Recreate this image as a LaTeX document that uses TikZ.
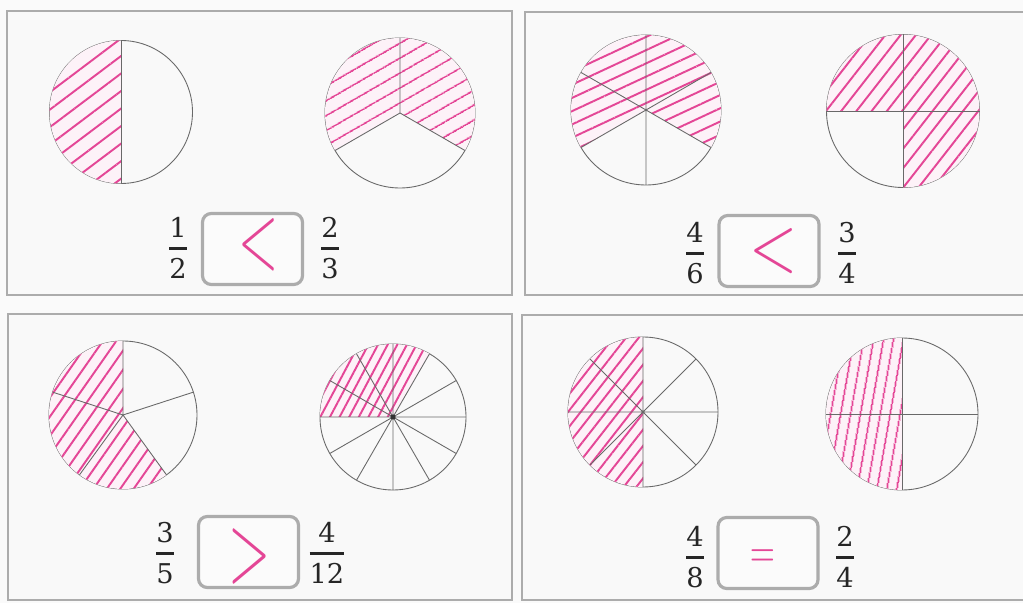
\documentclass[tikz,border=0pt]{standalone}
\definecolor{rosa}{RGB}{228,70,150}
\definecolor{marco}{RGB}{172,172,172}
\definecolor{trazo}{RGB}{105,105,105}
\usepackage{fix-cm}
\usepackage{amsmath}
\usepackage{fontspec}
\newfontfamily\cifras{DejaVu Serif}
\usepackage{tikz}
\usetikzlibrary{patterns.meta}
\newcommand{\fraccion}[2]{$\genfrac{}{}{1.6pt}{0}{\text{#1}}{\text{#2}}$}

\begin{document}
\begin{tikzpicture}[
    font=\fontsize{17}{20}\selectfont,
    panel/.style={
        draw=marco,
        line width=1.6pt,
        fill=gray!5
    },
    pie/.style={
        circle,
        draw=trazo,
        line width=0.5pt,
        inner sep=0pt,
        outer sep=0pt,
        minimum size=#1
    },
    division/.style={
        draw=trazo,
        line width=0.5pt
    },
    hatch/.style 2 args={
        preaction={fill=rosa!7},
        pattern={Lines[angle=#1,distance=#2,line width=1.1pt]},
        pattern color=rosa
    },
    answerbox/.style={
        draw=marco,
        line width=1.8pt,
        rounded corners=5pt,
        fill=gray!3,
        minimum width=2cm,
        minimum height=1.42cm
    },
    sign/.style={
        text=rosa,
        inner sep=0pt,
        font=\fontsize{30}{30}\selectfont
    },
    fraction/.style={
        text=black!85,
        inner sep=0pt,
        font=\cifras\fontsize{15.5}{20}\selectfont
    }
]

\useasboundingbox (0,0) rectangle (20.46,12.06);
\fill[gray!4] (0,0) rectangle (20.46,12.06);

% MARCOS
\draw[panel] (0.14,6.16) rectangle (10.24,11.84);
\draw[panel] (10.50,6.16) rectangle (20.60,11.82);
\draw[panel] (0.16,0.06) rectangle (10.24,5.78);
\draw[panel] (10.44,0.06) rectangle (20.60,5.76);

% PANEL SUPERIOR IZQUIERDO
\node[pie=2.86cm] (tlA) at (2.42,9.82) {};
\node[pie=3.00cm] (tlB) at (8.00,9.80) {};

\path[hatch={37}{0.28cm}] (tlA.center) -- (tlA.90)
    arc[start angle=90, end angle=270, radius=1.43cm] -- cycle;
\path[hatch={30}{0.26cm}] (tlB.center) -- (tlB.330)
    arc[start angle=-30, end angle=210, radius=1.50cm] -- cycle;

\draw[division] (tlA.90) -- (tlA.270);
\draw[division] (tlB.center) -- (tlB.90)
    (tlB.center) -- (tlB.210)
    (tlB.center) -- (tlB.330);

\node[fraction] (fTLa) at (3.56,7.10) {\fraccion{1}{2}};
\node[answerbox] (bTL) at (5.05,7.08) {};
\node[sign, yscale=1.8] (sTL) at (5.18,7.16) {$<$};
\node[fraction] (fTLb) at (6.60,7.10) {\fraccion{2}{3}};

% PANEL SUPERIOR DERECHO
\node[pie=3.00cm] (trA) at (12.92,9.86) {};
\node[pie=3.06cm] (trB) at (18.06,9.84) {};

\path[hatch={25}{0.24cm}] (trA.center) -- (trA.330)
    arc[start angle=-30, end angle=210, radius=1.50cm] -- cycle;
\path[hatch={52}{0.24cm}] (trB.center) -- (trB.270)
    arc[start angle=-90, end angle=180, radius=1.53cm] -- cycle;

\draw[division] (trA.90) -- (trA.270)
    (trA.30) -- (trA.210)
    (trA.150) -- (trA.330);
\draw[division] (trB.0) -- (trB.180)
    (trB.90) -- (trB.270);

\node[fraction] (fTRa) at (13.90,7.00) {\fraccion{4}{6}};
\node[answerbox] (bTR) at (15.38,7.04) {};
\node[sign, xscale=1.2, yscale=1.55] (sTR) at (15.48,7.04) {$<$};
\node[fraction] (fTRb) at (16.94,7.00) {\fraccion{3}{4}};

% PANEL INFERIOR IZQUIERDO
\node[pie=2.96cm] (blA) at (2.46,3.76) {};
\node[pie=2.92cm] (blB) at (7.86,3.72) {};

\path[hatch={55}{0.22cm}] (blA.center) -- (blA.90)
    arc[start angle=90, end angle=306, radius=1.48cm] -- cycle;
\path[hatch={62}{0.17cm}] (blB.center) -- (blB.60)
    arc[start angle=60, end angle=180, radius=1.46cm] -- cycle;

\draw[division] (blA.center) -- (blA.18)
    (blA.center) -- (blA.90)
    (blA.center) -- (blA.162)
    (blA.center) -- (blA.234)
    (blA.center) -- (blA.306);
\draw[division] (blB.0) -- (blB.180)
    (blB.30) -- (blB.210)
    (blB.60) -- (blB.240)
    (blB.90) -- (blB.270)
    (blB.120) -- (blB.300)
    (blB.150) -- (blB.330);
\fill[black!80] (blB.center) circle[radius=0.05];

\node[fraction] (fBLa) at (3.30,1.00) {\fraccion{3}{5}};
\node[answerbox] (bBL) at (4.97,1.02) {};
\node[sign, xscale=1.05, yscale=1.9] (sBL) at (5.00,0.94) {$>$};
\node[fraction] (fBLb) at (6.54,1.00) {\fraccion{4}{12}};

% PANEL INFERIOR DERECHO
\node[pie=3.00cm] (brA) at (12.86,3.82) {};
\node[pie=3.04cm] (brB) at (18.04,3.78) {};

\path[hatch={52}{0.2cm}] (brA.center) -- (brA.90)
    arc[start angle=90, end angle=270, radius=1.50cm] -- cycle;
\path[hatch={80}{0.18cm}] (brB.center) -- (brB.90)
    arc[start angle=90, end angle=270, radius=1.52cm] -- cycle;

\draw[division] (brA.0) -- (brA.180)
    (brA.45) -- (brA.225)
    (brA.90) -- (brA.270)
    (brA.135) -- (brA.315);
\draw[division] (brB.0) -- (brB.180)
    (brB.90) -- (brB.270);

\node[fraction] (fBRa) at (13.90,0.92) {\fraccion{4}{8}};
\node[answerbox] (bBR) at (15.36,1.00) {};
\node[sign, xscale=0.65] (sBR) at (15.26,0.88) {$=$};
\node[fraction] (fBRb) at (16.90,0.92) {\fraccion{2}{4}};

\end{tikzpicture}
\end{document}
